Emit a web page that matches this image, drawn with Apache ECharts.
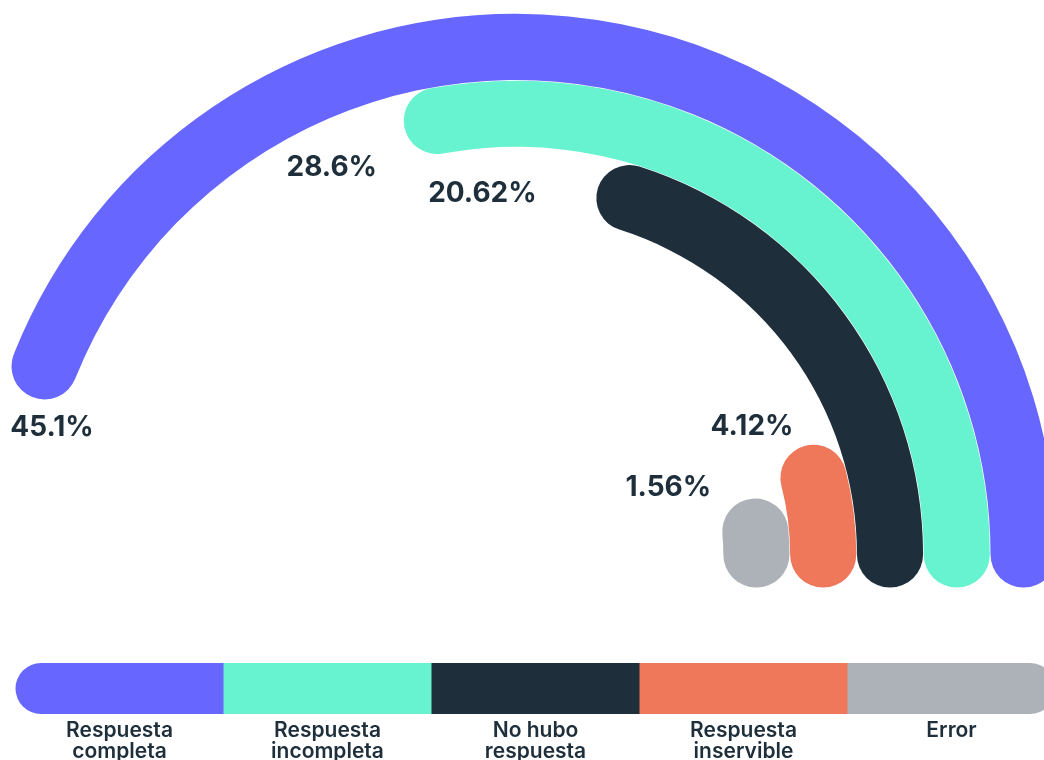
<!DOCTYPE html>
<html><head><meta charset="utf-8">
<script src="https://cdn.jsdelivr.net/npm/echarts@6/dist/echarts.min.js"></script>
<style>html,body{margin:0;padding:0;background:#fff}#c{width:1044px;height:760px}</style>
</head><body><div id="c"></div>
<script>
// ---- data ----
const categories = ['Respuesta completa', 'Respuesta incompleta', 'No hubo respuesta', 'Respuesta inservible', 'Error'];
const values = [45.1, 28.6, 20.62, 4.12, 1.56];
const legendLines = [['Respuesta', 'completa'], ['Respuesta', 'incompleta'], ['No hubo', 'respuesta'], ['Respuesta', 'inservible'], ['Error']];

// ---- styles ----
const colors = ['#6767FF', '#67F2D0', '#1E2F3B', '#EF775A', '#ACB2B8'];
const labelOffsets = [[7.5, 61], [-105, 47], [-147, -5], [-61.5, -51], [-87, -44]];
const textColor = '#1E2F3B';
const halfCircleValue = 51.3; // value that spans the half circle

// rings: innermost = last category
const order = categories.map((c, i) => i).reverse();
const ringNames = order.map(i => categories[i]);

const barData = order.map(i => ({ value: values[i], itemStyle: { color: colors[i] } }));
const labelData = order.map((i, k) => ({
  value: [k, values[i]],
  label: { offset: labelOffsets[i] }
}));

// legend bar built from categories/colors
const legX = 15.5, legW = 208, legY = 663, legH = 51, legR = 25.5;
const graphics = [];
categories.forEach((c, i) => {
  const r = i === 0 ? [legR, 0, 0, legR] : (i === categories.length - 1 ? [0, legR, legR, 0] : 0);
  graphics.push({
    type: 'rect', silent: true,
    shape: { x: legX + i * legW, y: legY, width: legW + (i < categories.length - 1 ? 0.5 : 0), height: legH, r: r },
    style: { fill: colors[i] }
  });
  graphics.push({
    type: 'text', silent: true,
    x: legX + i * legW + legW / 2, y: 720,
    style: {
      text: legendLines[i].join('\n'),
      align: 'center', verticalAlign: 'top',
      font: '600 21px Inter', fill: textColor, lineHeight: 21
    }
  });
});

const chart = echarts.init(document.getElementById('c'), null, { renderer: 'canvas' });
chart.setOption({
  backgroundColor: '#ffffff',
  animation: false,
  polar: { center: [516, 554.5], radius: [207, 541] },
  angleAxis: {
    type: 'value', min: 0, max: halfCircleValue * 2, startAngle: 0, clockwise: false, show: false,
    axisLine: { show: false }, axisTick: { show: false }, axisLabel: { show: false }, splitLine: { show: false }
  },
  radiusAxis: {
    type: 'category', data: ringNames, show: false,
    axisLine: { show: false }, axisTick: { show: false }, axisLabel: { show: false }, splitLine: { show: false }
  },
  series: [
    {
      type: 'bar', coordinateSystem: 'polar', roundCap: true,
      barCategoryGap: '1%', data: barData, silent: true, z: 2
    },
    {
      type: 'scatter', coordinateSystem: 'polar', symbolSize: 1,
      itemStyle: { color: 'rgba(0,0,0,0)', opacity: 1 }, silent: true, z: 5,
      label: {
        show: true, position: 'inside', opacity: 1,
        formatter: p => p.value[1] + '%',
        fontFamily: 'Inter', fontWeight: 700, fontSize: 28, color: textColor
      },
      data: labelData
    }
  ],
  graphic: graphics
});
</script>
</body></html>
